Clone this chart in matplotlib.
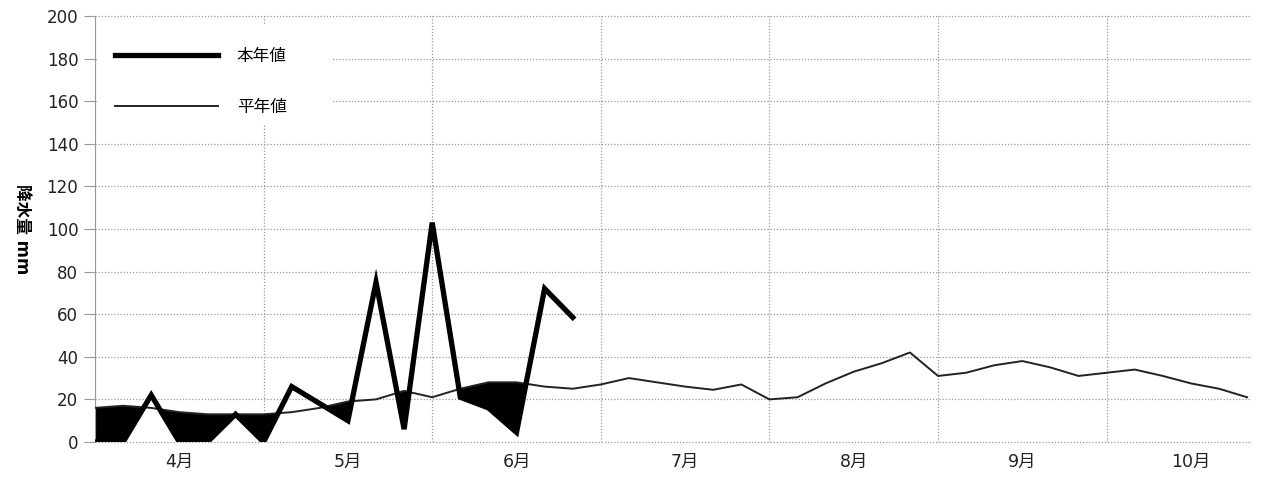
import matplotlib.pyplot as plt
import matplotlib.patches as mpatches
import numpy as np

plt.rcParams['font.family'] = ['DejaVu Sans', 'Noto Sans CJK JP']

months = ["4月", "5月", "6月", "7月", "8月", "9月", "10月"]

# 半旬ごとの降水量 (mm)
honnen = [0, 0, 22, 0, 0, 13, 0, 26, 18, 10, 75, 6, 103, 21, 16, 4.5, 72, 58.5]
heinen = [16, 17, 16, 14, 13, 13, 13, 14, 16, 19, 20, 24, 21, 25, 28, 28, 26, 25,
          27, 30, 28, 26, 24.5, 27, 20, 21, 27.5, 33, 37, 42,
          31, 32.5, 36, 38, 35, 31, 32.5, 34, 31, 27.5, 25, 21]

x_all = np.arange(len(heinen))
x_hon = np.arange(len(honnen))

fig = plt.figure(figsize=(12.65, 4.88), dpi=100)
ax = fig.add_axes([0.0751, 0.0943, 0.913, 0.873])
ax.set_axisbelow(True)

# 平年より少ない部分を塗りつぶし
hn = np.array(heinen[:len(honnen)])
hv = np.array(honnen)
ax.fill_between(x_hon, hv, hn, where=hv < hn, interpolate=True,
                color='black', lw=0, zorder=2)

ax.plot(x_all, heinen, color='#222222', lw=1.4, zorder=3, label='平年値')
ax.plot(x_hon, honnen, color='black', lw=3.8, zorder=4, label='本年値',
        solid_joinstyle='miter')

ax.set_xlim(0, 41.1)
ax.set_ylim(0, 200)
ax.set_yticks(range(0, 201, 20))

# 月の境界にグリッド
ax.set_xticks(range(0, 42, 6), minor=True)
ax.set_xticks(range(3, 42, 6))
ax.set_xticklabels(months, fontsize=12.5)
ax.grid(axis='y', color='#999999', ls=(0, (1, 1.5)), lw=0.9)
ax.grid(axis='x', which='minor', color='#999999', ls=(0, (1, 1.5)), lw=0.9)
for gl in ax.get_ygridlines():
    gl.set_clip_on(False)
ax.tick_params(axis='x', which='both', length=0, pad=8, labelcolor='#222222')
ax.tick_params(axis='y', length=8, color='#999999', labelsize=12, pad=4,
               labelcolor='#222222')

for s in ['top', 'right', 'bottom']:
    ax.spines[s].set_visible(False)
ax.spines['left'].set_color('#999999')

ax.set_ylabel('降水量 mm', rotation=270, fontsize=12, fontweight='bold')
ax.yaxis.set_label_coords(-0.071, 0.5)

# 凡例の白い背景
ax.add_patch(mpatches.Rectangle((0.002, 0.744), 0.204, 0.235, transform=ax.transAxes,
                                facecolor='white', edgecolor='none', zorder=1.5))

h, l = ax.get_legend_handles_labels()
leg = ax.legend(h[::-1], l[::-1], loc='upper left', bbox_to_anchor=(0.0, 0.975),
                frameon=False, fontsize=12, handlelength=6.2, labelspacing=2.0,
                borderpad=0.9, handletextpad=1.1, borderaxespad=0.3)
leg.set_zorder(5)

fig.savefig('out.png', dpi=100)
